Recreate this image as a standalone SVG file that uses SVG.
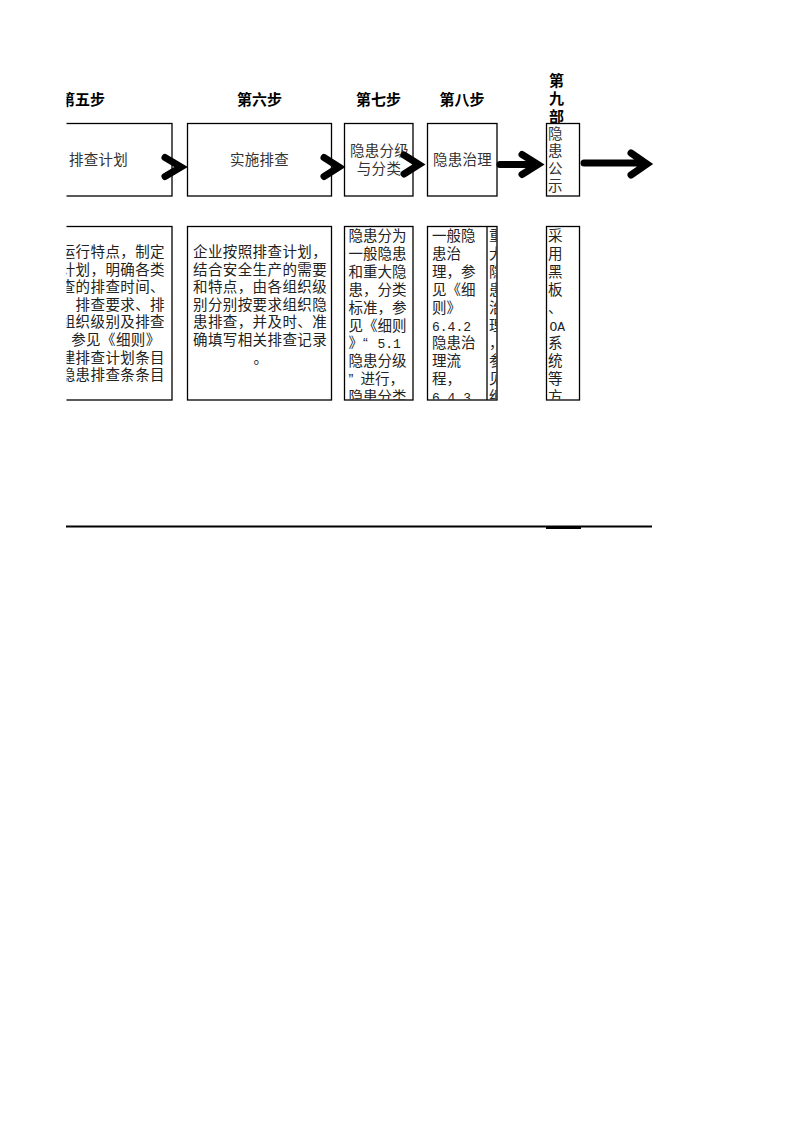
<svg xmlns="http://www.w3.org/2000/svg" width="793" height="1122" viewBox="0 0 793 1122">
<style>
.bg{fill:#fff}
.box{fill:none;stroke:#000;stroke-width:1.3}
.lbl{font-family:"Liberation Sans","Noto Sans CJK SC",sans-serif;font-size:15px;font-weight:bold;fill:#000}
.tt{font-family:"Liberation Sans","Noto Sans CJK SC",sans-serif;font-size:14.5px;fill:#333;letter-spacing:0.3px;text-anchor:middle}
.tv{font-family:"Liberation Sans","Noto Sans CJK SC",sans-serif;font-size:14.5px;fill:#333}
.t{font-family:"Liberation Sans","Noto Sans CJK SC",sans-serif;font-size:14.5px;fill:#222;letter-spacing:0.4px}
.t2{font-family:"Liberation Sans","Noto Sans CJK SC",sans-serif;font-size:14.5px;fill:#222}
.m{font-family:"Liberation Mono",monospace;font-size:13px}
.arr{fill:none;stroke:#000;stroke-width:7;stroke-linecap:round;stroke-linejoin:miter;stroke-miterlimit:10}
.rule{stroke:#000;stroke-width:2}
</style>
<defs>
<clipPath id="clipL"><rect x="66.5" y="0" width="730" height="1122"/></clipPath>
<clipPath id="c1b"><rect x="66.5" y="227" width="105" height="172.5"/></clipPath>
<clipPath id="c2b"><rect x="188" y="227" width="143" height="172.5"/></clipPath>
<clipPath id="c3b"><rect x="345" y="227" width="67.5" height="172.5"/></clipPath>
<clipPath id="c4b"><rect x="428" y="227" width="58.5" height="172.5"/></clipPath>
<clipPath id="c4c"><rect x="487.5" y="227" width="9" height="172.5"/></clipPath>
<clipPath id="c5b"><rect x="547" y="227" width="32" height="172.5"/></clipPath>
<clipPath id="c9"><rect x="540" y="60" width="40" height="63"/></clipPath>
</defs>
<rect class="bg" x="0" y="0" width="793" height="1122"/>

<!-- step labels -->
<g id="labels">
<text class="lbl" x="82.5" y="104.5" text-anchor="middle" clip-path="url(#clipL)">第五步</text>
<text class="lbl" x="259.5" y="104.5" text-anchor="middle">第六步</text>
<text class="lbl" x="378.5" y="104.5" text-anchor="middle">第七步</text>
<text class="lbl" x="462" y="104.5" text-anchor="middle">第八步</text>
<g clip-path="url(#c9)">
<text class="lbl" x="549" y="85.5">第</text>
<text class="lbl" x="549" y="103.5">九</text>
<text class="lbl" x="549" y="121.5">部</text>
</g>
</g>

<!-- top row nodes -->
<g id="node-plan">
<rect class="box" x="20" y="123.5" width="152" height="72.5" clip-path="url(#clipL)"/>
<text class="tt" x="98.5" y="165">排查计划</text>
</g>
<g id="node-implement">
<rect class="box" x="187.5" y="123.5" width="144" height="72.5"/>
<text class="tt" x="259.5" y="165">实施排查</text>
</g>
<g id="node-classify">
<rect class="box" x="344.5" y="123.5" width="68.5" height="72.5"/>
<text class="tt" x="379.5" y="155.5">隐患分级</text>
<text class="tt" x="379" y="173.5">与分类</text>
</g>
<g id="node-govern">
<rect class="box" x="427.5" y="123.5" width="69.5" height="72.5"/>
<text class="tt" x="462.5" y="165">隐患治理</text>
</g>
<g id="node-publish">
<rect class="box" x="546.5" y="123.5" width="33" height="72.5"/>
<text class="tv" x="548" y="138.5">隐</text>
<text class="tv" x="548" y="156">患</text>
<text class="tv" x="548" y="173.5">公</text>
<text class="tv" x="548" y="191">示</text>
</g>

<!-- bottom row description nodes -->
<g id="desc-plan">
<rect class="box" x="20" y="226.5" width="152" height="173.5" clip-path="url(#clipL)"/>
<g clip-path="url(#c1b)">
<text class="t" x="60.7" y="257">运行特点，制定</text>
<text class="t" x="60.7" y="274.6">计划，明确各类</text>
<text class="t" x="60.7" y="292.2">查的排查时间、</text>
<text class="t" x="60.7" y="309.8">、排查要求、排</text>
<text class="t" x="60.7" y="327.4">组织级别及排查</text>
<text class="t" x="56.3" y="345">，参见《细则》</text>
<text class="t" x="60.7" y="362.6">建排查计划条目</text>
<text class="t" x="60.7" y="380.2">隐患排查条条目</text>
</g>
</g>
<g id="desc-implement">
<rect class="box" x="187.5" y="226.5" width="144" height="173.5"/>
<g clip-path="url(#c2b)">
<text class="t" x="193" y="257">企业按照排查计划，</text>
<text class="t" x="193" y="274.6">结合安全生产的需要</text>
<text class="t" x="193" y="292.2">和特点，由各组织级</text>
<text class="t" x="193" y="309.8">别分别按要求组织隐</text>
<text class="t" x="193" y="327.4">患排查，并及时、准</text>
<text class="t" x="193" y="345">确填写相关排查记录</text>
<text class="t" x="261" y="362.6" text-anchor="middle">。</text>
</g>
</g>
<g id="desc-classify">
<rect class="box" x="344.5" y="226.5" width="68.5" height="173.5"/>
<g clip-path="url(#c3b)">
<text class="t2" x="348.5" y="241">隐患分为</text>
<text class="t2" x="348.5" y="258.9">一般隐患</text>
<text class="t2" x="348.5" y="276.8">和重大隐</text>
<text class="t2" x="348.5" y="294.7">患，分类</text>
<text class="t2" x="348.5" y="312.6">标准，参</text>
<text class="t2" x="348.5" y="330.5">见《细则</text>
<text class="t2" x="348.5" y="348.4">》<tspan x="363">“</tspan><tspan class="m" x="377.5">5.1</tspan></text>
<text class="t2" x="348.5" y="366.3">隐患分级</text>
<text class="t2" x="348.5" y="384.2">”<tspan x="360.5">进行，</tspan></text>
<text class="t2" x="348.5" y="402.1">隐患分类</text>
</g>
</g>
<g id="desc-govern">
<rect class="box" x="427.5" y="226.5" width="69.5" height="173.5"/>
<line class="box" x1="487" y1="226.5" x2="487" y2="400"/>
<g clip-path="url(#c4b)">
<text class="t2" x="432" y="241">一般隐</text>
<text class="t2" x="432" y="258.9">患治</text>
<text class="t2" x="432" y="276.8">理，参</text>
<text class="t2" x="432" y="294.7">见《细</text>
<text class="t2" x="432" y="312.6">则》</text>
<text class="t2 m" x="432" y="330.5">6.4.2</text>
<text class="t2" x="432" y="348.4">隐患治</text>
<text class="t2" x="432" y="366.3">理流</text>
<text class="t2" x="432" y="384.2">程，</text>
<text class="t2 m" x="432" y="402.1">6.4.3</text>
</g>
<g clip-path="url(#c4c)">
<text class="t2" x="489" y="241">重</text>
<text class="t2" x="489" y="258.9">大</text>
<text class="t2" x="489" y="276.8">隐</text>
<text class="t2" x="489" y="294.7">患</text>
<text class="t2" x="489" y="312.6">治</text>
<text class="t2" x="489" y="330.5">理</text>
<text class="t2" x="489" y="348.4">，</text>
<text class="t2" x="489" y="366.3">参</text>
<text class="t2" x="489" y="384.2">见</text>
<text class="t2" x="489" y="402.1">细</text>
</g>
</g>
<g id="desc-publish">
<rect class="box" x="546.5" y="226.5" width="33" height="173.5"/>
<g clip-path="url(#c5b)">
<text class="t2" x="548" y="241">采</text>
<text class="t2" x="548" y="258.9">用</text>
<text class="t2" x="548" y="276.8">黑</text>
<text class="t2" x="548" y="294.7">板</text>
<text class="t2" x="548" y="312.6">、</text>
<text class="t2 m" x="549.5" y="330.5">OA</text>
<text class="t2" x="548" y="348.4">系</text>
<text class="t2" x="548" y="366.3">统</text>
<text class="t2" x="548" y="384.2">等</text>
<text class="t2" x="548" y="402.1">方</text>
</g>
</g>

<!-- connectors -->
<g id="connectors">
<polyline class="arr" points="165,157.5 181,167 165,176.5"/>
<polyline class="arr" points="324,157.5 339,167 324,176.5"/>
<polyline class="arr" points="404,155 419,164.5 404,174"/>
<path class="arr" d="M500,164.5 H535 M522,154.5 L538,164.5 L522,174.5"/>
<path class="arr" d="M584,163 H644 M631,153 L647,164 L631,175"/>
</g>

<!-- bottom rule -->
<g id="rule">
<line class="rule" x1="66" y1="526.5" x2="652" y2="526.5"/>
<line class="rule" x1="546" y1="528" x2="581" y2="528"/>
</g>
</svg>
